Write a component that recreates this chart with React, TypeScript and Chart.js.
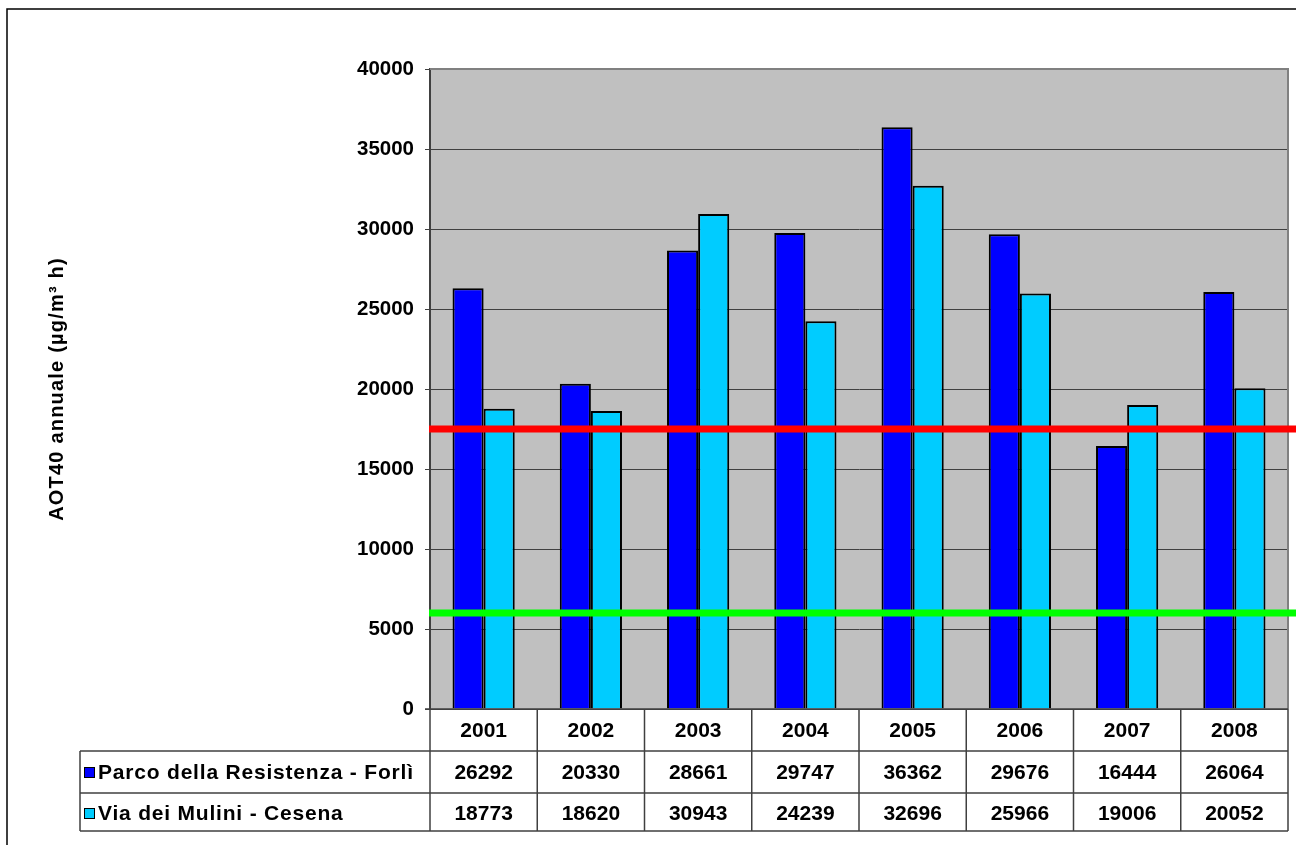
import React, { useEffect, useRef } from "react";
import { Chart, registerables } from "chart.js";

Chart.register(...registerables);

const years = ["2001", "2002", "2003", "2004", "2005", "2006", "2007", "2008"];
const forliValues = [26292, 20330, 28661, 29747, 36362, 29676, 16444, 26064];
const cesenaValues = [18773, 18620, 30943, 24239, 32696, 25966, 19006, 20052];
const seriesNames = ["Parco della Resistenza - Forlì", "Via dei Mulini - Cesena"];
const seriesColors = ["#0000FF", "#00CCFF"];
const yMin = 0;
const yMax = 40000;
const yStep = 5000;
const redThreshold = 17500;
const greenThreshold = 6000;
const axisTitle = "AOT40 annuale (µg/m³ h)";

const FONT = "'Liberation Sans', Arial, sans-serif";

const tablePlugin = {
  id: "tablePlugin",
  beforeDraw(chart: any) {
    const { ctx, chartArea } = chart;
    ctx.save();
    ctx.fillStyle = "#FFFFFF";
    ctx.fillRect(0, 0, chart.width, chart.height);
    ctx.fillStyle = "#C0C0C0";
    ctx.fillRect(chartArea.left, chartArea.top, chartArea.right - chartArea.left, chartArea.bottom - chartArea.top);
    ctx.restore();
  },
  afterDatasetsDraw(chart: any) {
    const { ctx, chartArea } = chart;
    const y = chart.scales.y;
    ctx.save();
    ctx.strokeStyle = "#808080";
    ctx.lineWidth = 2;
    ctx.beginPath();
    ctx.moveTo(chartArea.left, chartArea.top);
    ctx.lineTo(chartArea.right, chartArea.top);
    ctx.lineTo(chartArea.right, chartArea.bottom);
    ctx.stroke();
    const lines: [number, string][] = [
      [redThreshold, "#FF0000"],
      [greenThreshold, "#00FF00"],
    ];
    ctx.lineWidth = 7;
    for (const [v, c] of lines) {
      const py = y.getPixelForValue(v);
      ctx.strokeStyle = c;
      ctx.beginPath();
      ctx.moveTo(chartArea.left - 1, py);
      ctx.lineTo(chart.width, py);
      ctx.stroke();
    }
    ctx.restore();
  },
  afterDraw(chart: any) {
    const { ctx, chartArea } = chart;
    const n = years.length;
    const w = (chartArea.right - chartArea.left) / n;
    const top = chartArea.bottom;
    const rowH = [42, 42, 38];
    const r1 = top + rowH[0];
    const r2 = r1 + rowH[1];
    const r3 = r2 + rowH[2];
    const tableLeft = 80;
    ctx.save();
    ctx.strokeStyle = "#404040";
    ctx.lineWidth = 1.5;
    ctx.beginPath();
    ctx.moveTo(chartArea.left - 5, top);
    ctx.lineTo(chartArea.right, top);
    for (const ry of [r1, r2, r3]) {
      ctx.moveTo(tableLeft, ry);
      ctx.lineTo(chartArea.right, ry);
    }
    for (let i = 0; i <= n; i++) {
      const x = chartArea.left + i * w;
      ctx.moveTo(x, top);
      ctx.lineTo(x, r3);
    }
    ctx.moveTo(tableLeft, r1);
    ctx.lineTo(tableLeft, r3);
    ctx.stroke();

    ctx.fillStyle = "#000";
    ctx.font = `bold 21px ${FONT}`;
    ctx.textAlign = "center";
    ctx.textBaseline = "middle";
    const rows = [forliValues, cesenaValues];
    for (let i = 0; i < n; i++) {
      const cx = chartArea.left + (i + 0.5) * w;
      ctx.fillText(years[i], cx, (top + r1) / 2 + 1);
      ctx.fillText(String(rows[0][i]), cx, (r1 + r2) / 2 + 1);
      ctx.fillText(String(rows[1][i]), cx, (r2 + r3) / 2 + 2);
    }
    const rowCenters = [(r1 + r2) / 2, (r2 + r3) / 2 + 1];
    ctx.textAlign = "left";
    (ctx as any).letterSpacing = "0.8px";
    for (let s = 0; s < 2; s++) {
      const cy = rowCenters[s];
      ctx.fillStyle = seriesColors[s];
      ctx.fillRect(84, cy - 5, 10, 10);
      ctx.strokeStyle = "#000";
      ctx.lineWidth = 1;
      ctx.strokeRect(84.5, cy - 4.5, 10, 10);
      ctx.fillStyle = "#000";
      ctx.fillText(seriesNames[s], 98, cy + 1);
    }
    ctx.save();
    ctx.translate(57, (chartArea.top + chartArea.bottom) / 2);
    ctx.rotate(-Math.PI / 2);
    ctx.textAlign = "center";
    ctx.textBaseline = "middle";
    ctx.font = `bold 20px ${FONT}`;
    (ctx as any).letterSpacing = "1.2px";
    ctx.fillText(axisTitle, 0, 0);
    ctx.restore();
    (ctx as any).letterSpacing = "0px";

    ctx.strokeStyle = "#000";
    ctx.lineWidth = 1.5;
    ctx.beginPath();
    ctx.moveTo(7, chart.height);
    ctx.lineTo(7, 9);
    ctx.lineTo(chart.width, 9);
    ctx.stroke();
    ctx.restore();
  },
};

export default function App() {
  const ref = useRef<HTMLCanvasElement>(null);
  useEffect(() => {
    if (!ref.current) return;
    const chart = new Chart(ref.current, {
      type: "bar",
      data: {
        labels: years,
        datasets: [
          {
            label: seriesNames[0],
            data: forliValues,
            backgroundColor: seriesColors[0],
            borderColor: "#000",
            borderWidth: 2,
            categoryPercentage: 0.58,
            barPercentage: 1.0,
          },
          {
            label: seriesNames[1],
            data: cesenaValues,
            backgroundColor: seriesColors[1],
            borderColor: "#000",
            borderWidth: 2,
            categoryPercentage: 0.58,
            barPercentage: 1.0,
          },
        ],
      },
      options: {
        responsive: false,
        animation: false,
        layout: { padding: { left: 0, right: 8, top: 69, bottom: 136 } },
        plugins: { legend: { display: false }, tooltip: { enabled: false } },
        scales: {
          x: { display: false },
          y: {
            min: yMin,
            max: yMax,
            afterFit(scale: any) {
              scale.width = 430;
            },
            ticks: {
              stepSize: yStep,
              padding: 11,
              color: "#000",
              font: { family: FONT, size: 20.5, weight: "bold" },
              callback: (v: any) => String(v),
            },
            grid: { color: "#404040", lineWidth: 1, tickLength: 5 },
            border: { color: "#404040", width: 2 },
          },
        },
      },
      plugins: [tablePlugin],
    });
    return () => chart.destroy();
  }, []);
  return (
    <div style={{ position: "absolute", left: 0, top: 0, width: 1296, height: 845, background: "#fff" }}>
      <canvas ref={ref} width={1296} height={845} style={{ display: "block" }} />
    </div>
  );
}
